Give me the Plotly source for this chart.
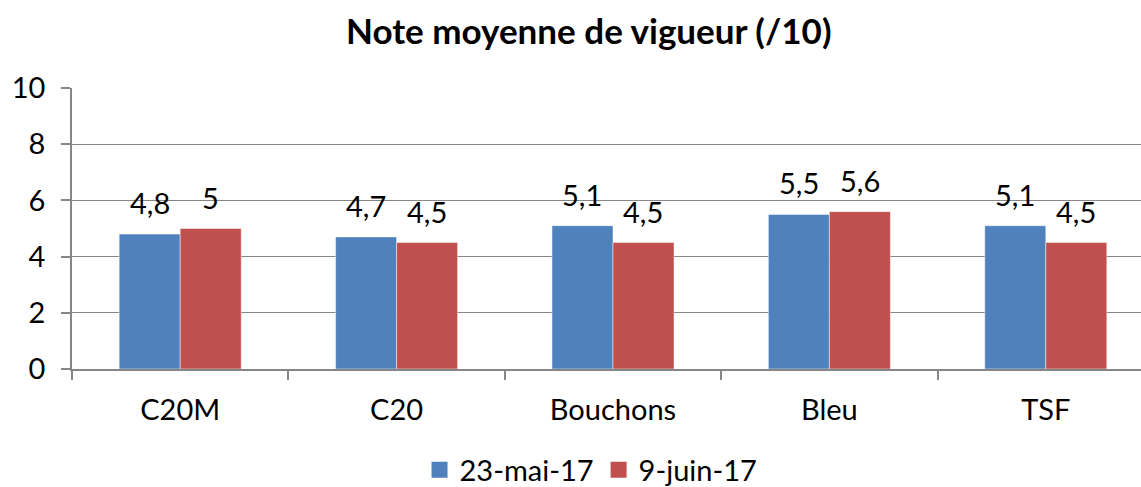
import plotly.graph_objects as go

categories = ["C20M", "C20", "Bouchons", "Bleu", "TSF"]
series_names = ["23-mai-17", "9-juin-17"]
values_mai = [4.8, 4.7, 5.1, 5.5, 5.1]
values_juin = [5.0, 4.5, 4.5, 5.6, 4.5]
y_ticks = [0, 2, 4, 6, 8, 10]

colors = ["#4F81BD", "#C0504D"]
FONT = "Lato, Calibri, Carlito, sans-serif"

def fmt(v):
    s = ("%g" % v).replace(".", ",")
    return s

fig = go.Figure()
for name, vals, col in zip(series_names, [values_mai, values_juin], colors):
    fig.add_trace(go.Bar(
        x=categories, y=vals, name=name, showlegend=False, legendgroup=name,
        marker=dict(color=col, line=dict(color="rgba(255,255,255,0.6)", width=0.8)),
    ))
for name, col in zip(series_names, colors):
    fig.add_trace(go.Scatter(
        x=[None], y=[None], mode="markers", name=name, legendgroup=name,
        marker=dict(symbol="square", size=20, color=col),
    ))

bar_px = 61
for vals, shift in [(values_mai, -bar_px / 2), (values_juin, bar_px / 2)]:
    for c, v in zip(categories, vals):
        fig.add_annotation(x=c, y=v, text=fmt(v), showarrow=False,
                           xshift=shift, yanchor="bottom", yshift=12,
                           font=dict(family=FONT, size=29, color="black"))

fig.update_layout(
    width=1141, height=487,
    margin=dict(l=72, r=0, t=88, b=118),
    paper_bgcolor="white", plot_bgcolor="white",
    barmode="group", bargap=0.436, bargroupgap=0,
    font=dict(family=FONT, size=29, color="black"),
    title=dict(text="<b>Note moyenne de vigueur (/10)</b>", x=0.516, xanchor="center",
               y=0.934, yanchor="middle", font=dict(family=FONT, size=35, color="black")),
    legend=dict(orientation="h", x=0.518, xanchor="center", xref="container",
                y=0.035, yanchor="middle", yref="container", tracegroupgap=0,
                font=dict(family=FONT, size=29), itemwidth=30, traceorder="normal"),
    showlegend=True,
)
fig.update_xaxes(
    range=[-0.5, 4.44], showline=True, linecolor="#868686", linewidth=1.5,
    ticks="outside", tickson="boundaries", ticklen=9, tickcolor="#868686", tickwidth=1.5,
    tickfont=dict(family=FONT, size=29), showgrid=False, automargin=False,
    ticklabelstandoff=14,
)
fig.update_yaxes(
    range=[0, 10], tickvals=y_ticks, showline=True, linecolor="#868686", linewidth=1.5,
    ticks="outside", ticklen=9, tickcolor="#868686", tickwidth=1.5,
    showgrid=True, gridcolor="#868686", gridwidth=1.2, zeroline=False,
    tickfont=dict(family=FONT, size=29), ticklabelstandoff=10, automargin=False,
)

fig.write_html("out.html", config={"displayModeBar": False},
               post_script="document.body.style.margin='0';")
